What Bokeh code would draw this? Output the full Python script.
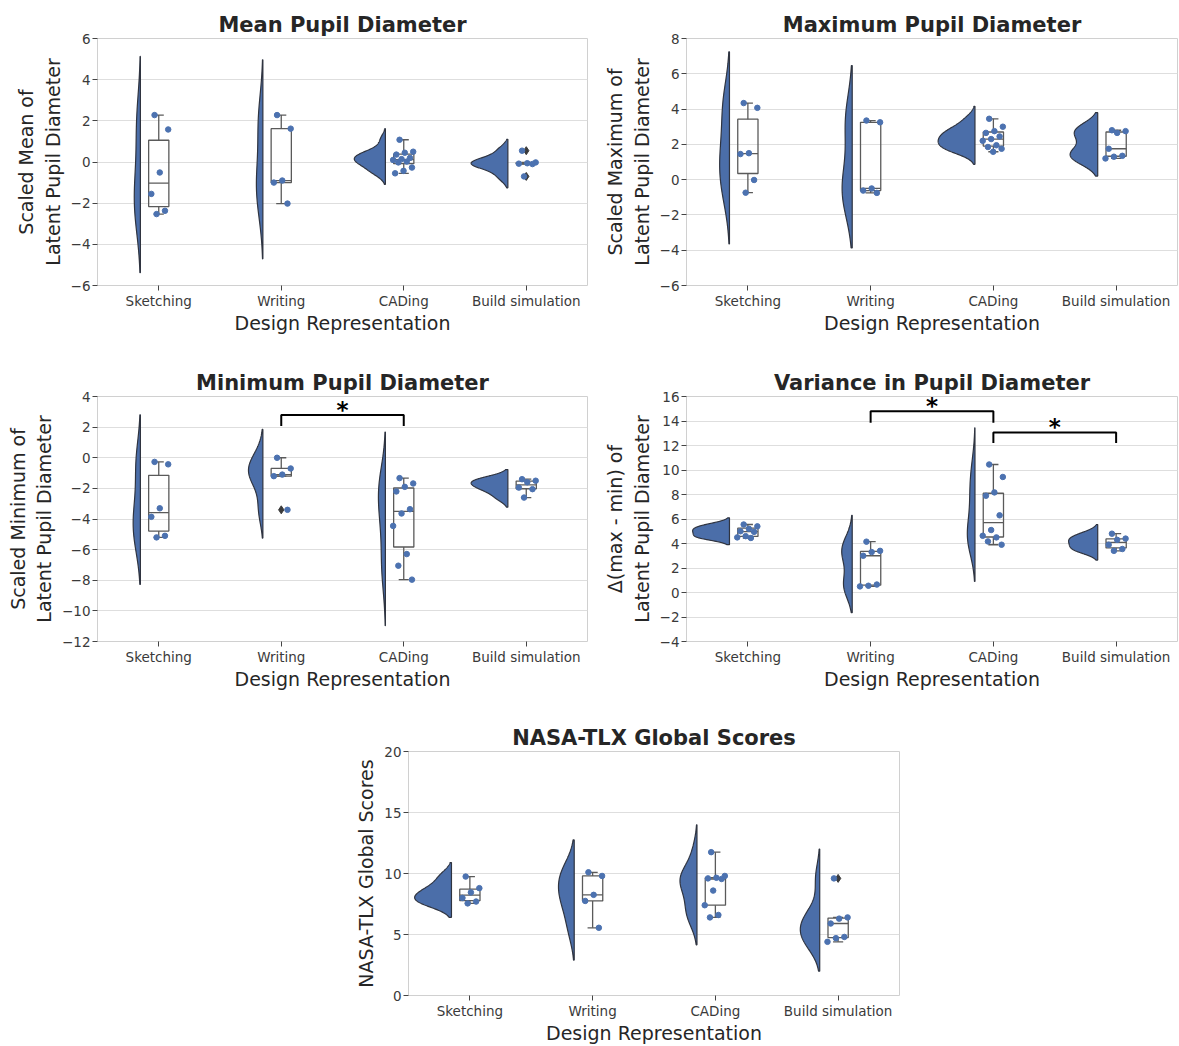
import numpy as np
from bokeh.plotting import figure
from bokeh.layouts import column, row
from bokeh.models import FixedTicker, Range1d, Spacer
from bokeh.core.properties import value
from bokeh.embed import file_html
from bokeh.resources import INLINE

# ---------------- data ----------------
CATEGORIES = ["Sketching", "Writing", "CADing", "Build simulation"]

MEAN_SKETCHING = [2.28, 1.58, -0.51, -1.55, -2.37, -2.53]
MEAN_WRITING = [2.28, 1.62, -0.9, -1.0, -2.02]
MEAN_CADING = [1.08, 0.5, 0.45, 0.36, 0.2, 0.14, 0.1, 0.02, -0.02, -0.27, -0.43, -0.55]
MEAN_BUILD = [0.55, -0.02, -0.06, -0.08, -0.1, -0.7]

MAX_SKETCHING = [4.34, 4.07, 1.5, 1.45, -0.02, -0.74]
MAX_WRITING = [3.35, 3.25, -0.5, -0.62, -0.75]
MAX_CADING = [3.45, 3.0, 2.75, 2.65, 2.45, 2.3, 2.2, 1.95, 1.85, 1.75, 1.58]
MAX_BUILD = [2.8, 2.75, 2.65, 1.75, 1.35, 1.3, 1.2]

MIN_SKETCHING = [-0.27, -0.43, -3.3, -3.86, -5.1, -5.2]
MIN_WRITING = [0.0, -0.7, -1.1, -1.2, -3.4]
MIN_CADING = [-1.33, -1.68, -1.9, -2.2, -3.36, -3.64, -4.45, -6.29, -7.05, -7.96]
MIN_BUILD = [-1.4, -1.5, -1.6, -1.95, -2.05, -2.6]

VAR_SKETCHING = [5.55, 5.4, 5.2, 5.0, 4.95, 4.6, 4.5, 4.45]
VAR_WRITING = [4.15, 3.4, 3.3, 3.0, 0.65, 0.55, 0.5]
VAR_CADING = [10.45, 9.43, 8.17, 7.9, 6.3, 5.1, 4.63, 4.5, 4.17, 3.9]
VAR_BUILD = [4.8, 4.4, 4.3, 3.9, 3.55, 3.4]

NASA_SKETCHING = [9.75, 8.8, 8.45, 8.0, 7.7, 7.55]
NASA_WRITING = [10.1, 9.8, 8.25, 7.75, 5.55]
NASA_CADING = [11.75, 9.8, 9.65, 9.6, 9.55, 8.6, 7.4, 6.6, 6.4]
NASA_BUILD = [9.6, 6.4, 6.3, 5.9, 4.8, 4.7, 4.4]

# significance brackets: (from category, to category, bracket top, leg end)
MIN_SIG = [("Writing", "CADing", 2.8, 2.07)]
VAR_SIG = [("Writing", "CADing", 14.8, 13.85), ("CADing", "Build simulation", 13.07, 12.2)]

MEAN_TICKS = [-6, -4, -2, 0, 2, 4, 6]
MAX_TICKS = [-6, -4, -2, 0, 2, 4, 6, 8]
MIN_TICKS = [-12, -10, -8, -6, -4, -2, 0, 2, 4]
VAR_TICKS = [-4, -2, 0, 2, 4, 6, 8, 10, 12, 14, 16]
NASA_TICKS = [0, 5, 10, 15, 20]

# ---------------- style ----------------
FONT = "DejaVu Sans"
VIOLIN_FILL = "#4B6EA9"
VIOLIN_LINE = "#2f3440"
POINT_C = "#4C72B0"
BOX_C = "#5a5a5a"
FLIER_C = "#3a3a3a"
TEXT_C = "#262626"


def kde(vals):
    v = np.asarray(vals, float)
    n = len(v)
    bw = v.std(ddof=1) * n ** (-0.2)
    grid = np.linspace(v.min() - 2 * bw, v.max() + 2 * bw, 200)
    z = (grid[:, None] - v[None, :]) / bw
    d = np.exp(-0.5 * z ** 2).sum(1) / (n * bw * np.sqrt(2 * np.pi))
    return grid, d


def raincloud(groups, title, ylabel, yrange, yticks, width, height,
              border_left, border_right, border_top, border_bottom, sig=()):
    p = figure(width=width, height=height, x_range=Range1d(-0.5, 3.5),
               y_range=Range1d(*yrange), output_backend="svg",
               toolbar_location=None, min_border_left=border_left,
               min_border_right=border_right, min_border_top=border_top,
               min_border_bottom=border_bottom)
    p.title.text = title
    p.title.align = "center"
    p.title.text_font = FONT
    p.title.text_font_size = "21px"
    p.title.text_font_style = "bold"
    p.title.text_color = TEXT_C
    p.title.standoff = 4

    # half violins
    dens = [kde(g) for g in groups]
    dmax = max(d.max() for _, d in dens)
    for i, (grid, d) in enumerate(dens):
        edge = i - 0.15
        w = d / dmax * 0.3
        xs = np.r_[edge - w, edge, edge]
        ys = np.r_[grid, grid[-1], grid[0]]
        p.patch(xs, ys, fill_color=VIOLIN_FILL, line_color=VIOLIN_LINE,
                line_width=1.2)

    # boxes
    bw = 0.165
    for i, g in enumerate(groups):
        v = np.asarray(g, float)
        q1, med, q3 = np.percentile(v, [25, 50, 75])
        iqr = q3 - q1
        lo_f, hi_f = q1 - 1.5 * iqr, q3 + 1.5 * iqr
        inside = v[(v >= lo_f) & (v <= hi_f)]
        wlo, whi = inside.min(), inside.max()
        fl = v[(v < lo_f) | (v > hi_f)]
        p.quad(left=i - bw / 2, right=i + bw / 2, bottom=q1, top=q3,
               fill_color=None, line_color=BOX_C, line_width=1.3)
        p.segment(x0=[i - bw / 2, i, i, i - bw / 4, i - bw / 4],
                  x1=[i + bw / 2, i, i, i + bw / 4, i + bw / 4],
                  y0=[med, q3, q1, whi, wlo], y1=[med, whi, wlo, whi, wlo],
                  line_color=BOX_C, line_width=1.3)
        if len(fl):
            p.scatter(x=[i] * len(fl), y=fl, marker="diamond", size=8,
                      fill_color=FLIER_C, line_color=FLIER_C)
        n = len(v)
        jit = ((np.arange(n) * 0.618034 + 0.31) % 1 - 0.5) * 0.18
        p.scatter(x=i + jit, y=v, size=5.5, fill_color=POINT_C,
                  line_color=POINT_C)

    # significance brackets
    for a, b, top, leg in sig:
        xa, xb = CATEGORIES.index(a), CATEGORIES.index(b)
        p.line([xa, xa, xb, xb], [leg, top, top, leg], line_color="black",
               line_width=2)
        p.text(x=[(xa + xb) / 2], y=[top], text=["*"], text_align="center",
               text_baseline="alphabetic", y_offset=-5,
               text_font=value(FONT), text_font_size="23px",
               text_font_style="bold", text_color="black")

    p.xaxis.ticker = FixedTicker(ticks=[0, 1, 2, 3])
    p.xaxis.major_label_overrides = {i: c for i, c in enumerate(CATEGORIES)}
    p.yaxis.ticker = FixedTicker(ticks=yticks)
    p.xaxis.axis_label = "Design Representation"
    p.yaxis.axis_label = ylabel
    for ax in (p.xaxis[0], p.yaxis[0]):
        ax.axis_line_color = None
        ax.major_tick_line_color = "#444444"
        ax.major_tick_out = 5
        ax.major_tick_in = 0
        ax.minor_tick_line_color = None
        ax.major_label_text_font = FONT
        ax.major_label_text_font_size = "13.5px"
        ax.major_label_text_color = "#3a3a3a"
        ax.major_label_standoff = 2
        ax.axis_label_text_font = FONT
        ax.axis_label_text_font_size = "19px"
        ax.axis_label_text_font_style = "normal"
        ax.axis_label_text_color = TEXT_C
        ax.axis_label_standoff = 0
    p.yaxis[0].axis_label_standoff = 4
    p.xgrid.visible = False
    p.ygrid.grid_line_color = "#dedede"
    p.ygrid.grid_line_width = 1
    p.outline_line_color = "#d0d0d0"
    p.outline_line_width = 1
    p.background_fill_color = "white"
    return p


p1 = raincloud([MEAN_SKETCHING, MEAN_WRITING, MEAN_CADING, MEAN_BUILD],
               "Mean Pupil Diameter", "Scaled Mean of\nLatent Pupil Diameter",
               (-6, 6), MEAN_TICKS, 597, 366, 97, 10, 38, 81)
p2 = raincloud([MAX_SKETCHING, MAX_WRITING, MAX_CADING, MAX_BUILD],
               "Maximum Pupil Diameter", "Scaled Maximum of\nLatent Pupil Diameter",
               (-6, 8), MAX_TICKS, 581, 366, 89, 1, 38, 81)
p3 = raincloud([MIN_SKETCHING, MIN_WRITING, MIN_CADING, MIN_BUILD],
               "Minimum Pupil Diameter", "Scaled Minimum of\nLatent Pupil Diameter",
               (-12, 4), MIN_TICKS, 597, 355, 97, 10, 30, 80, sig=MIN_SIG)
p4 = raincloud([VAR_SKETCHING, VAR_WRITING, VAR_CADING, VAR_BUILD],
               "Variance in Pupil Diameter", "\u0394(max - min) of\nLatent Pupil Diameter",
               (-4, 16), VAR_TICKS, 581, 355, 89, 1, 30, 80, sig=VAR_SIG)
p5 = raincloud([NASA_SKETCHING, NASA_WRITING, NASA_CADING, NASA_BUILD],
               "NASA-TLX Global Scores", "NASA-TLX Global Scores",
               (0, 20), NASA_TICKS, 590, 325, 89, 10, 30, 48)

layout = column(row(p1, p2), row(p3, p4), row(Spacer(width=319, height=10), p5))
open("out.html", "w").write(file_html(layout, INLINE))
